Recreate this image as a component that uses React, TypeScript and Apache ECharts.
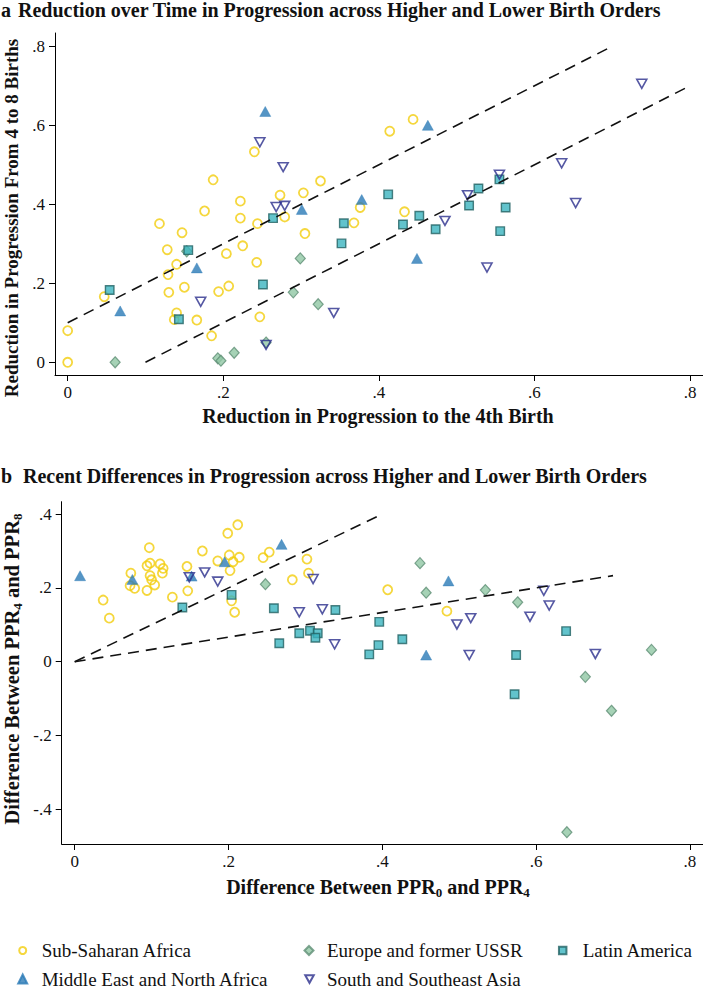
import React, { useEffect, useRef } from "react";
import * as echarts from "echarts";

const regions = [
  "Sub-Saharan Africa",
  "Middle East and North Africa",
  "Europe and former USSR",
  "Latin America",
  "South and Southeast Asia",
];

// Panel a: reduction in progression to 4th birth (x) vs reduction from 4 to 8 births (y)
const ssaA = [
  [0, 0.08], [0, 0], [0.047, 0.166], [0.118, 0.351], [0.128, 0.285], [0.147, 0.328],
  [0.14, 0.248], [0.129, 0.222], [0.13, 0.177], [0.15, 0.19], [0.14, 0.125], [0.137, 0.108],
  [0.166, 0.107], [0.176, 0.383], [0.187, 0.462], [0.185, 0.067], [0.194, 0.179], [0.207, 0.193],
  [0.204, 0.275], [0.222, 0.408], [0.222, 0.365], [0.225, 0.295], [0.24, 0.533], [0.244, 0.351],
  [0.243, 0.253], [0.247, 0.115], [0.273, 0.423], [0.279, 0.368], [0.303, 0.429], [0.325, 0.459],
  [0.305, 0.326], [0.376, 0.392], [0.368, 0.353], [0.414, 0.585], [0.444, 0.615], [0.433, 0.381],
];
const menaA = [
  [0.0675, 0.13], [0.166, 0.239], [0.254, 0.635], [0.301, 0.387], [0.378, 0.412], [0.463, 0.6], [0.449, 0.263],
];
const eurA = [
  [0.061, 0], [0.153, 0.281], [0.193, 0.01], [0.197, 0.004], [0.214, 0.024], [0.299, 0.263],
  [0.29, 0.177], [0.322, 0.147], [0.255, 0.05],
];
const latA = [
  [0.054, 0.183], [0.155, 0.284], [0.143, 0.109], [0.251, 0.197], [0.264, 0.365], [0.355, 0.352],
  [0.352, 0.301], [0.412, 0.425], [0.431, 0.349], [0.452, 0.371], [0.473, 0.337], [0.516, 0.397],
  [0.528, 0.44], [0.555, 0.463], [0.563, 0.392], [0.556, 0.332],
];
const sseaA = [
  [0.171, 0.153], [0.247, 0.557], [0.277, 0.494], [0.268, 0.393], [0.279, 0.396], [0.255, 0.044],
  [0.342, 0.125], [0.485, 0.358], [0.514, 0.423], [0.555, 0.475], [0.539, 0.24], [0.635, 0.504],
  [0.653, 0.403], [0.738, 0.705],
];

// Panel b: difference PPR0-PPR4 (x) vs difference PPR4-PPR8 (y)
const ssaB = [
  [0.037, 0.167], [0.045, 0.118], [0.073, 0.24], [0.072, 0.206], [0.078, 0.199], [0.097, 0.309],
  [0.094, 0.26], [0.098, 0.267], [0.098, 0.233], [0.1, 0.222], [0.094, 0.193], [0.104, 0.208],
  [0.111, 0.265], [0.114, 0.24], [0.115, 0.253], [0.127, 0.175], [0.146, 0.258], [0.147, 0.192],
  [0.166, 0.3], [0.186, 0.273], [0.199, 0.348], [0.212, 0.371], [0.201, 0.289], [0.206, 0.271],
  [0.214, 0.283], [0.202, 0.247], [0.204, 0.165], [0.208, 0.134], [0.245, 0.282], [0.253, 0.297],
  [0.283, 0.222], [0.302, 0.278], [0.304, 0.24], [0.407, 0.195], [0.484, 0.137],
];
const menaB = [
  [0.007, 0.233], [0.075, 0.223], [0.152, 0.232], [0.195, 0.271], [0.269, 0.318], [0.486, 0.219], [0.457, 0.018],
];
const eurB = [
  [0.248, 0.21], [0.449, 0.267], [0.457, 0.187], [0.534, 0.194], [0.576, 0.161], [0.75, 0.032],
  [0.664, -0.041], [0.698, -0.133], [0.64, -0.462],
];
const latB = [
  [0.14, 0.147], [0.204, 0.181], [0.259, 0.145], [0.266, 0.05], [0.292, 0.077], [0.306, 0.084],
  [0.316, 0.077], [0.313, 0.065], [0.339, 0.14], [0.396, 0.108], [0.395, 0.045], [0.383, 0.02],
  [0.426, 0.061], [0.574, 0.018], [0.572, -0.088], [0.639, 0.083],
];
const sseaB = [
  [0.149, 0.229], [0.169, 0.242], [0.186, 0.217], [0.31, 0.224], [0.292, 0.134], [0.322, 0.142],
  [0.338, 0.047], [0.497, 0.101], [0.515, 0.118], [0.513, 0.018], [0.592, 0.122], [0.61, 0.192],
  [0.617, 0.152], [0.677, 0.021],
];

// Reference dashed lines
const lineA1 = [[0, 0.1], [0.7, 0.8]];
const lineA2 = [[0.1, 0], [0.8, 0.7]];
const lineB1 = [[0, 0], [0.4, 0.4]];
const lineB2 = [[0, 0], [0.7, 0.2333]];

const xTicks = [0, 0.2, 0.4, 0.6, 0.8];
const yTicksA = [0, 0.2, 0.4, 0.6, 0.8];
const yTicksB = [-0.4, -0.2, 0, 0.2, 0.4];

const SERIF = '"Liberation Serif", "Times New Roman", serif';

const fmt = (v: number) => {
  if (Math.abs(v) < 1e-9) return "0";
  return v.toFixed(1).replace("0.", ".");
};

const markerStyles: any[] = [
  { symbol: "circle", symbolSize: 9, itemStyle: { color: "rgba(255,255,255,0)", borderColor: "#f3cd0d", borderWidth: 1.8 } },
  { symbol: "triangle", symbolSize: [11, 10], itemStyle: { color: "#2a7ab7", borderColor: "#2a7ab7", borderWidth: 0.5 } },
  { symbol: "diamond", symbolSize: [10, 11], itemStyle: { color: "#90c7a4", borderColor: "#5f8f75", borderWidth: 1.2 } },
  { symbol: "rect", symbolSize: 8.5, itemStyle: { color: "#3bb4bf", borderColor: "#226163", borderWidth: 1.4 } },
  { symbol: "path://M0,0L10,0L5,9Z", symbolSize: [10, 9], itemStyle: { color: "rgba(255,255,255,0)", borderColor: "#2b2e8c", borderWidth: 1.6 } },
];

function mkAxis(kind: "x" | "y", gridIndex: number, min: number, max: number, ticks: number[]) {
  return {
    type: "value",
    gridIndex,
    min,
    max,
    position: kind === "x" ? "bottom" : "left",
    axisLine: { show: true, onZero: false, lineStyle: { color: "#000", width: 1 } },
    axisTick: { show: true, length: 6, inside: false, customValues: ticks, lineStyle: { color: "#000", width: 1 } },
    axisLabel: {
      customValues: ticks,
      formatter: fmt,
      color: "#111",
      fontFamily: SERIF,
      fontSize: 17,
      margin: kind === "x" ? 9 : 10,
    },
    splitLine: { show: false },
  };
}

// legend layout: icon centre x, text start x, row centre y, icon size
const legendLayout = [
  { cx: 21.7, tx: 40.7, cy: 950.5, s: 7 },
  { cx: 21.7, tx: 40.7, cy: 979, s: 9 },
  { cx: 308, tx: 326, cy: 950.5, s: 9 },
  { cx: 561.7, tx: 581.7, cy: 950.5, s: 7.5 },
  { cx: 308.5, tx: 326, cy: 979, s: 8.5 },
];

export default function App() {
  const ref = useRef<HTMLDivElement>(null);
  useEffect(() => {
    if (!ref.current) return;
    const chart = echarts.init(ref.current, null, { renderer: "svg" });

    const panelsA = [ssaA, menaA, eurA, latA, sseaA];
    const panelsB = [ssaB, menaB, eurB, latB, sseaB];
    const series: any[] = [];
    [panelsA, panelsB].forEach((sets, gi) => {
      sets.forEach((d, i) => {
        series.push({
          type: "scatter",
          name: regions[i],
          xAxisIndex: gi,
          yAxisIndex: gi,
          data: d,
          silent: true,
          ...markerStyles[i],
        });
      });
    });
    [[lineA1, 0], [lineA2, 0], [lineB1, 1], [lineB2, 1]].forEach(([d, gi]: any) => {
      series.push({
        type: "line",
        xAxisIndex: gi,
        yAxisIndex: gi,
        data: d,
        symbol: "none",
        silent: true,
        lineStyle: { color: "#111", width: 1.6, type: [11, 7] },
        z: 5,
      });
    });

    const fs = 19;
    const legend = regions.map((r, i) => {
      const L = legendLayout[i];
      return {
        data: [r],
        left: L.cx - L.s / 2,
        top: L.cy - fs / 2,
        orient: "horizontal",
        padding: 0,
        itemWidth: L.s,
        itemHeight: L.s,
        selectedMode: false,
        textStyle: {
          fontFamily: SERIF,
          fontSize: fs,
          color: "#111",
          padding: [0, 0, 0, Math.max(0, L.tx - (L.cx + L.s / 2) - 5)],
        },
      };
    });

    const titleFont = `bold 20px ${SERIF}`;
    const yTitleFont = `bold 19px ${SERIF}`;
    const richB = (size: number) => ({
      m: { fontFamily: SERIF, fontWeight: "bold", fontSize: size, lineHeight: 24, verticalAlign: "middle" },
      s: { fontFamily: SERIF, fontWeight: "bold", fontSize: Math.round(size * 0.65), lineHeight: 24, verticalAlign: "bottom" },
    });
    chart.setOption({
      animation: false,
      backgroundColor: "#fff",
      grid: [
        { left: 55, top: 33, width: 648, height: 342 },
        { left: 61.7, top: 501.7, width: 641.3, height: 342.3 },
      ],
      xAxis: [
        mkAxis("x", 0, -0.0163, 0.8167, xTicks),
        mkAxis("x", 1, -0.0169, 0.817, xTicks),
      ],
      yAxis: [
        mkAxis("y", 0, -0.0322, 0.8337, yTicksA),
        mkAxis("y", 1, -0.494, 0.4336, yTicksB),
      ],
      legend,
      series,
      graphic: [
        { type: "text", x: 1, y: 10, style: { text: "a", font: titleFont, fill: "#111", verticalAlign: "middle" } },
        { type: "text", x: 18, y: 10, style: { text: "Reduction over Time in Progression across Higher and Lower Birth Orders", font: titleFont, fill: "#111", verticalAlign: "middle" } },
        { type: "text", x: 1, y: 476, style: { text: "b", font: titleFont, fill: "#111", verticalAlign: "middle" } },
        { type: "text", x: 23, y: 476, style: { text: "Recent Differences in Progression across Higher and Lower Birth Orders", font: titleFont, fill: "#111", verticalAlign: "middle" } },
        { type: "text", x: 378, y: 416, style: { text: "Reduction in Progression to the 4th Birth", font: titleFont, fill: "#111", align: "center", verticalAlign: "middle" } },
        { type: "text", x: 11, y: 218, rotation: Math.PI / 2, style: { text: "Reduction in Progression From 4 to 8 Births", font: yTitleFont, fill: "#111", align: "center", verticalAlign: "middle" } },
        {
          type: "text", x: 378, y: 887,
          style: {
            text: "{m|Difference Between PPR}{s|0}{m| and PPR}{s|4}",
            align: "center", verticalAlign: "middle", fill: "#111",
            rich: richB(20),
          },
        },
        {
          type: "text", x: 12, y: 669, rotation: Math.PI / 2,
          style: {
            text: "{m|Difference Between PPR}{s|4}{m| and PPR}{s|8}",
            align: "center", verticalAlign: "middle", fill: "#111",
            rich: richB(20.5),
          },
        },
      ],
    });
    return () => chart.dispose();
  }, []);
  return <div ref={ref} style={{ position: "absolute", left: 0, top: 0, width: 703, height: 989 }} />;
}
